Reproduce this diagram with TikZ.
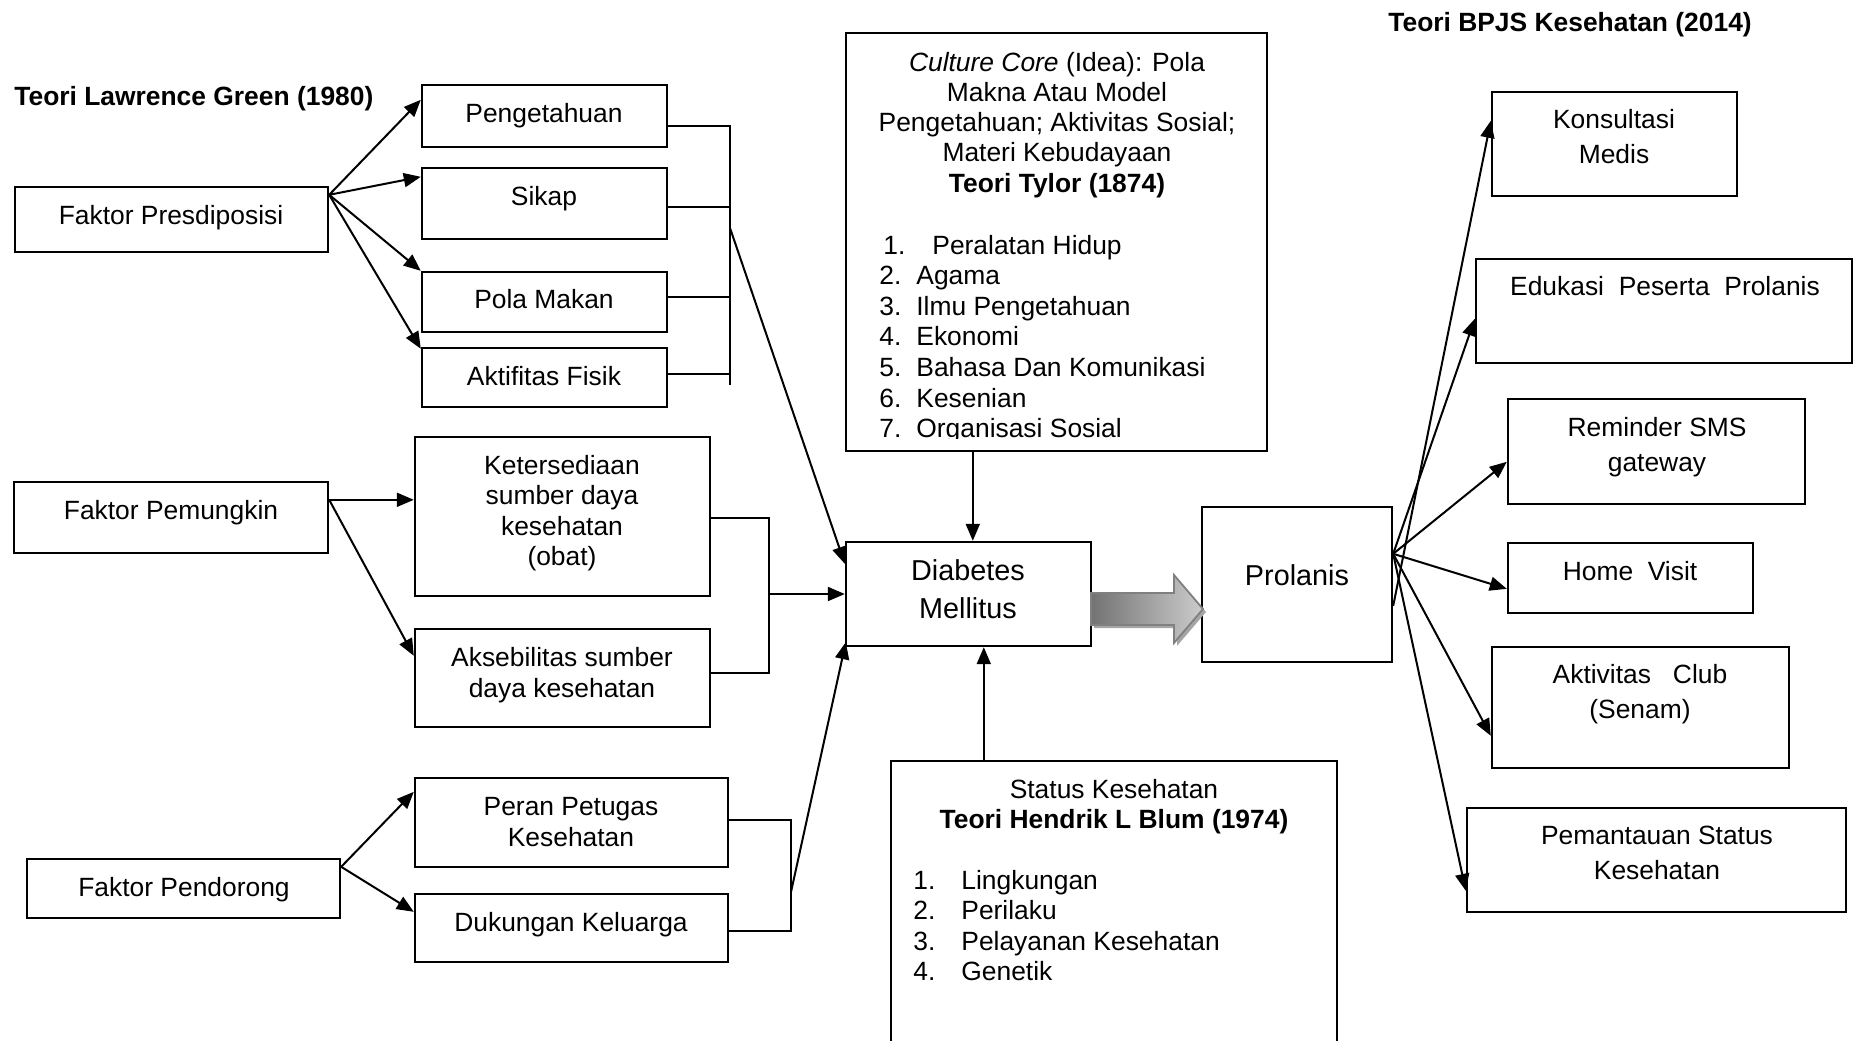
\documentclass[tikz,border=0pt]{standalone}
\usepackage{fontspec}
\setmainfont{Liberation Sans}
\usetikzlibrary{arrows.meta,fit,calc}
\newcommand\fnorm{\fontsize{13.2pt}{15.25pt}\selectfont}
\newcommand\fwide{\fontsize{13.2pt}{17.5pt}\selectfont}
\newcommand\fbig{\fontsize{14.4pt}{19pt}\selectfont}
\begin{document}
\begin{tikzpicture}[x=0.5pt,y=-0.5pt,
  box/.style={draw,line width=1.2pt,inner sep=0pt,fit={#1}},
  txt/.style={font=\fnorm,inner sep=0pt,align=center},
  rtxt/.style={font=\fwide,inner sep=0pt,align=center},
  btxt/.style={font=\fbig,inner sep=0pt,align=center},
  line/.style={font=\fnorm,inner sep=0pt,anchor=base west},
  cline/.style={font=\fnorm,inner sep=0pt,anchor=base},
  ttl/.style={font=\fnorm\bfseries,inner sep=0pt,anchor=base west},
  arr/.style={line width=1pt,-{Triangle[length=8.5pt,width=7pt]}},
  brk/.style={line width=0.8pt},
]
\clip (0,0) rectangle (1854,1040);

% titles
\node[ttl] (green) at (14,105) {Teori Lawrence Green (1980)};
\node[ttl] (bpjs) at (1388,31) {Teori BPJS Kesehatan (2014)};

% predisposing factors
\node[box={(15,187) (328,252)}] (presd) {};
\node[txt] (presdt) at (171,218) {Faktor Presdiposisi};
\node[box={(422,85) (667,147)}] (peng) {};
\node[txt] (pengt) at (544,116) {Pengetahuan};
\node[box={(422,168) (667,239)}] (sikap) {};
\node[txt] (sikapt) at (544,199) {Sikap};
\node[box={(422,272) (667,332)}] (pola) {};
\node[txt] (polat) at (544,299) {Pola Makan};
\node[box={(422,348) (667,407)}] (fisik) {};
\node[txt] (fisikt) at (544,376) {Aktifitas Fisik};

% enabling factors
\node[box={(14,482) (328,553)}] (pem) {};
\node[txt] (pemt) at (171,513) {Faktor Pemungkin};
\node[box={(415,437) (710,596)}] (sedia) {};
\node[txt] (sediat) at (562,513) {Ketersediaan\\sumber daya\\kesehatan\\(obat)};
\node[box={(415,629) (710,727)}] (akses) {};
\node[txt] (aksest) at (562,675) {Aksebilitas sumber\\daya kesehatan};

% reinforcing factors
\node[box={(27,859) (340,918)}] (dorong) {};
\node[txt] (dorongt) at (184,890) {Faktor Pendorong};
\node[box={(415,778) (728,867)}] (peran) {};
\node[txt] (perant) at (571,822) {Peran Petugas\\Kesehatan};
\node[box={(415,894) (728,962)}] (kel) {};
\node[txt] (kelt) at (571,925) {Dukungan Keluarga};

% culture box
\node[box={(846,33) (1267,451)}] (tylor) {};
\node[cline] (tyh1) at (1057,71) {\textit{Culture Core} (Idea): Pola};
\node[cline] (tyh2) at (1057,101) {Makna Atau Model};
\node[cline] (tyh3) at (1057,131) {Pengetahuan; Aktivitas Sosial;};
\node[cline] (tyh4) at (1057,161) {Materi Kebudayaan};
\node[cline,font=\fnorm\bfseries] (tyh5) at (1057,192) {Teori Tylor (1874)};
\begin{scope}
\clip (846,33) rectangle (1267,438);
\node[line] (ty1) at (879,254) {\makebox[26.5pt][l]{\hspace{2pt}1.}Peralatan Hidup};
\node[line] (ty2) at (879,284.6) {\makebox[18.5pt][l]{2.}Agama};
\node[line] (ty3) at (879,315.2) {\makebox[18.5pt][l]{3.}Ilmu Pengetahuan};
\node[line] (ty4) at (879,345.8) {\makebox[18.5pt][l]{4.}Ekonomi};
\node[line] (ty5) at (879,376.4) {\makebox[18.5pt][l]{5.}Bahasa Dan Komunikasi};
\node[line] (ty6) at (879,407) {\makebox[18.5pt][l]{6.}Kesenian};
\node[line] (ty7) at (879,437.6) {\makebox[18.5pt][l]{7.}Organisasi Sosial};
\end{scope}

% centre
\node[box={(846,542) (1091,646)}] (dm) {};
\node[btxt] (dmt) at (968,589) {Diabetes\\Mellitus};
\node[box={(1202,507) (1392,662)}] (prol) {};
\node[btxt] (prolt) at (1297,575) {Prolanis};

% health status box
\node[box={(891,761) (1337,1070)}] (blum) {};
\node[cline] (bl1) at (1114,798) {Status Kesehatan};
\node[cline,font=\fnorm\bfseries] (bl2) at (1114,828) {Teori Hendrik L Blum (1974)};
\node[line] (bl3) at (913,889) {\makebox[24pt][l]{1.}Lingkungan};
\node[line] (bl4) at (913,919.5) {\makebox[24pt][l]{2.}Perilaku};
\node[line] (bl5) at (913,950) {\makebox[24pt][l]{3.}Pelayanan Kesehatan};
\node[line] (bl6) at (913,980.5) {\makebox[24pt][l]{4.}Genetik};

% programme activities
\node[box={(1492,92) (1737,196)}] (kons) {};
\node[rtxt] (konst) at (1614,137) {Konsultasi\\Medis};
\node[box={(1476,259) (1852,363)}] (edu) {};
\node[rtxt] (edut) at (1665,286) {Edukasi\ \ Peserta\ \ Prolanis};
\node[box={(1508,399) (1805,504)}] (rem) {};
\node[rtxt] (remt) at (1657,447) {Reminder SMS\\gateway};
\node[box={(1508,543) (1753,613)}] (home) {};
\node[rtxt] (homet) at (1630,571) {Home\ \ Visit};
\node[box={(1492,647) (1789,768)}] (club) {};
\node[rtxt] (clubt) at (1640,694) {Aktivitas\ \ \ Club\\(Senam)};
\node[box={(1467,808) (1846,912)}] (pantau) {};
\node[rtxt] (pantaut) at (1657,853) {Pemantauan Status\\Kesehatan};

% predisposing arrows
\coordinate (presdo) at ($(presd.north east)+(0,9)$);
\draw[arr] (presdo) -- ($(peng.north west)+(0,16)$);
\draw[arr] (presdo) -- ($(sikap.north west)+(0,10)$);
\draw[arr] (presdo) -- (pola.north west);
\draw[arr] (presdo) -- ($(fisik.north west)+(0,2)$);

% enabling arrows
\coordinate (pemo) at ($(pem.north east)+(0,19)$);
\draw[arr] (pemo) -- (pemo -| sedia.west);
\draw[arr] (pemo) -- ($(akses.north west)+(0,28)$);

% reinforcing arrows
\coordinate (dorongo) at ($(dorong.north east)+(0,9)$);
\draw[arr] (dorongo) -- ($(peran.north west)+(0,15)$);
\draw[arr] (dorongo) -- ($(kel.north west)+(0,19)$);

% bracket 1
\coordinate (b1t) at (730,127);
\coordinate (b1b) at (730,385);
\coordinate (b1o) at (730,228);
\draw[brk] (b1t) -- (b1b);
\draw[brk] ($(peng.north east)+(0,42)$) -- ++(63,0);
\draw[brk] ($(sikap.north east)+(0,40)$) -- ++(63,0);
\draw[brk] ($(pola.north east)+(0,26)$) -- ++(63,0);
\draw[brk] ($(fisik.north east)+(0,27)$) -- ++(63,0);
\draw[arr] (b1o) -- ($(dm.north west)+(0,23)$);

% bracket 2
\coordinate (b2t) at (769,518);
\coordinate (b2b) at (769,674);
\coordinate (b2o) at (769,594);
\draw[brk] (b2t) -- (b2b);
\draw[brk] ($(sedia.north east)+(0,82)$) -- ++(59,0);
\draw[brk] ($(akses.north east)+(0,45)$) -- ++(59,0);
\draw[arr] (b2o) -- (dm.west);

% bracket 3
\coordinate (b3t) at (791,820);
\coordinate (b3b) at (791,932);
\coordinate (b3o) at (791,892);
\draw[brk] (b3t) -- (b3b);
\draw[brk] ($(peran.north east)+(0,43)$) -- ++(63,0);
\draw[brk] ($(kel.north east)+(0,38)$) -- ++(63,0);
\draw[arr] (b3o) -- ($(dm.south west)+(1,-5)$);

% vertical arrows into the centre box
\draw[arr] ($(tylor.south west)+(128,0)$) -- ($(dm.north west)+(128,0)$);
\draw[arr] ($(blum.north west)+(94,0)$) -- ($(dm.south west)+(139,0)$);

% block arrow
\fill[black!35] (1094,596) -- (1177,596) -- (1177,578) -- (1206,612) -- (1177,646) -- (1177,628) -- (1094,628) -- cycle;
\draw[draw=black!50,line width=0.9pt,left color=black!55,right color=black!20]
  (1091,593) -- (1174,593) -- (1174,575) -- (1203,609) -- (1174,643) -- (1174,625) -- (1091,625) -- cycle;

% programme arrows
\coordinate (po) at ($(prol.north east)+(0,48)$);
\coordinate (pk) at ($(prol.north east)+(0,100)$);
\draw[arr] (pk) -- ($(kons.north west)+(0,30)$);
\draw[arr] (po) -- ($(edu.north west)+(0,61)$);
\draw[arr] (po) -- ($(rem.north west)+(0,64)$);
\draw[arr] (po) -- ($(home.north west)+(0,47)$);
\draw[arr] (po) -- ($(club.north west)+(0,90)$);
\draw[arr] (po) -- ($(pantau.north west)+(0,84)$);
\end{tikzpicture}
\end{document}
